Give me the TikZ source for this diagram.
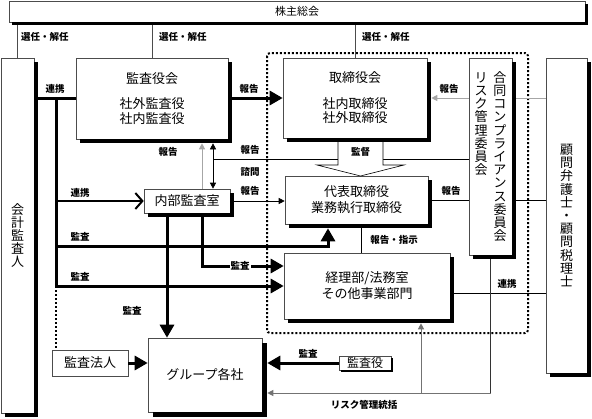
\documentclass[tikz,border=0pt]{standalone}
\usepackage{fontspec}
\setmainfont{Noto Sans CJK JP}
\usepackage{xcolor}
\usepackage{tikz}
\usetikzlibrary{arrows.meta}

\tikzset{
    box/.style={draw=black!70, fill=white, line width=0.6pt, inner sep=0pt, align=center,
        font=\fontsize{13}{16}\selectfont},
    tatebox/.style={box, font=\fontsize{13}{13.2}\selectfont},
    boxshadow/.style={draw=black, line width=#1, line cap=butt, line join=miter},
    boxshadow/.default=4pt,
    lbl/.style={font=\bfseries\fontsize{9.5}{10}\selectfont, inner sep=1pt},
    selline/.style={line width=0.6pt, black!70},
    thinline/.style={line width=0.6pt},
    grayline/.style={line width=1pt, black!35},
    darkgray/.style={line width=1pt, black!55},
    thickline/.style={line width=3pt},
    bigtip/.style={-{Triangle[length=13pt,width=14pt]}},
    smalltip/.style={-{Triangle[length=6pt,width=6pt]}},
    dotframe/.style={dotted, line width=2pt, rounded corners=3pt}
}

\begin{document}
\begin{tikzpicture}[x=1pt, y=-1pt]
    \useasboundingbox (0,0) rectangle (592,418);

    % frame round the executive side
    \draw[dotframe] (267,53) rectangle (528,333);

    % boxes
    \node[box, minimum width=576pt, minimum height=21pt, font=\fontsize{11}{12}\selectfont] (kabunushi) at (297,11.5) {株主総会};
    \node[tatebox, minimum width=33pt, minimum height=355pt] (kaikei) at (17.5,235.5) {会\\計\\監\\査\\人};
    \node[box, minimum width=152pt, minimum height=81pt, font=\fontsize{13}{14.5}\selectfont] (kansayakukai) at (152,98.5) {監査役会\\[11pt]社外監査役\\社内監査役};
    \node[box, minimum width=144pt, minimum height=80pt, font=\fontsize{13}{14.5}\selectfont] (torishimari) at (355,98) {取締役会\\[11pt]社内取締役\\社外取締役};
    \node[tatebox, minimum width=43pt, minimum height=197pt] (goudou) at (490.5,156.5) {%
        リ\hspace{6pt}合\\ス\hspace{6pt}同\\ク\hspace{6pt}コ\\管\hspace{6pt}ン\\理\hspace{6pt}プ\\
        委\hspace{6pt}ラ\\員\hspace{6pt}イ\\会\hspace{6pt}ア\\\phantom{会}\hspace{6pt}ン\\\phantom{会}\hspace{6pt}ス\\
        \phantom{会}\hspace{6pt}委\\\phantom{会}\hspace{6pt}員\\\phantom{会}\hspace{6pt}会};
    \node[tatebox, minimum width=41pt, minimum height=315pt] (komon) at (566.5,215.5) {顧\\問\\弁\\護\\士\\・\\顧\\問\\税\\理\\士};
    \node[box, minimum width=86pt, minimum height=24pt] (naibu) at (187,201) {内部監査室};
    \node[box, minimum width=143pt, minimum height=48pt] (daihyo) at (356.5,200) {代表取締役\\業務執行取締役};
    \node[box, minimum width=166pt, minimum height=66pt] (keiri) at (367,286) {経理部/法務室\\その他事業部門};
    \node[box, minimum width=114pt, minimum height=74pt] (group) at (205,375) {グループ各社};
    \node[box, minimum width=76pt, minimum height=26pt] (kansahoujin) at (90,363) {監査法人};
    \node[box, minimum width=52pt, minimum height=14pt, font=\fontsize{12}{13}\selectfont] (kansayaku) at (365,363) {監査役};

    % shadows on the right and bottom edges
    \draw[boxshadow=3pt] (586.5,4) -- (586.5,23.5) -- (12,23.5);
    \draw[boxshadow] (36,62) -- (36,415) -- (5,415);
    \draw[boxshadow] (230,62) -- (230,141) -- (80,141);
    \draw[boxshadow] (429,62) -- (429,140) -- (287,140);
    \draw[boxshadow] (514,62) -- (514,257) -- (473,257);
    \draw[boxshadow] (589,62) -- (589,375) -- (550,375);
    \draw[boxshadow] (232,193) -- (232,215) -- (148,215);
    \draw[boxshadow] (430,180) -- (430,226) -- (289,226);
    \draw[boxshadow] (452,257) -- (452,321) -- (288,321);
    \draw[boxshadow=5pt] (264.5,343) -- (264.5,414.5) -- (153,414.5);
    \draw[boxshadow=2pt] (392,358) -- (392,371) -- (341,371);

    % 選任・解任
    \draw[selline] ([yshift=-3pt]kabunushi.south -| kaikei.north) -- (kaikei.north);
    \draw[selline] ([yshift=-3pt]kabunushi.south -| kansayakukai.north) -- (kansayakukai.north);
    \draw[selline] ([yshift=-3pt]kabunushi.south -| torishimari.north) -- (torishimari.north);
    \node[lbl, anchor=west] (sen1) at (20,37) {選任・解任};
    \node[lbl, anchor=west] (sen2) at (158,37) {選任・解任};
    \node[lbl, anchor=west] (sen3) at (361,37) {選任・解任};

    % 会計監査人 side
    \coordinate (bustop) at (56,98.5);
    \coordinate (busbot) at (56,286);
    \draw[thickline] ([xshift=4pt]kaikei.east |- kansayakukai.west) -- (kansayakukai.west);
    \node[lbl] at (55,89) {連携};
    \draw[thickline] (bustop) -- (busbot);
    \draw[dotted, line width=2pt] (busbot) -- (busbot |- kansahoujin.north);
    \draw[line width=2pt, -{Straight Barb[length=7pt,width=16pt]}] (bustop |- naibu.west) -- (naibu.west);
    \node[lbl] at (80,193) {連携};
    \coordinate (kansa1) at (328,246);
    \draw[thickline, bigtip] (bustop |- kansa1) -- (kansa1) -- ([yshift=-4pt]kansa1 |- daihyo.south);
    \node[lbl] at (80,237) {監査};
    \draw[thickline, bigtip] (busbot) -- (busbot -| keiri.west);
    \node[lbl] at (80,277) {監査};

    % 監査役会 -> 取締役会
    \draw[thickline, bigtip] ([xshift=4pt]kansayakukai.east |- torishimari.west) -- (torishimari.west);
    \node[lbl] at (249,89) {報告};

    % 合同委員会 and 顧問
    \draw[grayline, smalltip] (goudou.west |- torishimari.east) -- ([xshift=4pt]torishimari.east);
    \draw[grayline] (komon.west |- torishimari.east) -- ([xshift=4pt]goudou.east |- torishimari.east);
    \node[lbl] at (449,89) {報告};
    \draw[thinline] (goudou.west |- daihyo.east) -- ([xshift=4pt]daihyo.east);
    \draw[thinline] (komon.west |- daihyo.east) -- ([xshift=4pt]goudou.east |- daihyo.east);
    \node[lbl] at (451,191) {報告};

    % 諮問 / 報告
    \coordinate (shimon) at (213,159);
    \coordinate (houkoku) at (202,159);
    \draw[thinline] (goudou.west |- shimon) -- (shimon);
    \draw[thinline, {Triangle[length=6pt,width=6pt]}-{Triangle[length=6pt,width=6pt]}]
        ([yshift=-4pt]kansayakukai.south -| shimon) -- (naibu.north -| shimon);
    \draw[grayline, smalltip] (naibu.north -| houkoku) -- ([yshift=-4pt]kansayakukai.south -| houkoku);
    \node[lbl] at (168,152) {報告};
    \node[lbl] at (250,150) {報告};
    \node[lbl] at (250,172) {諮問};

    % 監督
    \draw[thinline, fill=white] (338,142) -- (338,165) -- (317,165) -- (360.5,176) -- (404,165) -- (383,165) -- (383,142);
    \node[lbl] at (360.5,152) {監督};

    % 内部監査室
    \draw[thinline, smalltip] ([xshift=4pt]naibu.east) -- (naibu.east -| daihyo.west);
    \node[lbl] at (250,191) {報告};
    \draw[thickline, bigtip] ([xshift=-20pt,yshift=-4pt]naibu.south) -- ([xshift=-20pt]naibu.south |- group.north);
    \node[lbl] at (132,311) {監査};
    \coordinate (kansa2) at (202,266);
    \draw[thickline, bigtip] ([yshift=-4pt]naibu.south -| kansa2) -- (kansa2) -- (kansa2 -| keiri.west);
    \node[lbl, fill=white] at (240,266) {監査};

    % 代表取締役 -> 経理部
    \draw[thinline] ([xshift=4.5pt,yshift=-4pt]daihyo.south) -- ([xshift=4.5pt]daihyo.south |- keiri.north);
    \node[lbl] at (394,240) {報告・指示};

    % 連携 with 顧問
    \draw[thinline] ([xshift=4pt,yshift=-7pt]keiri.east) -- ([yshift=-7pt]keiri.east -| komon.west);
    \node[lbl] at (507,284) {連携};

    % リスク管理統括
    \coordinate (riskR) at (490.5,393);
    \coordinate (riskM) at (421,393);
    \draw[thinline, black!80] ([yshift=-4pt]goudou.south) -- (riskR);
    \draw[darkgray, smalltip] (riskR) -- ([xshift=5pt]group.east |- riskR);
    \draw[darkgray, smalltip] (riskM) -- ([yshift=-4pt]keiri.south -| riskM);
    \node[lbl] at (364,405) {リスク管理統括};

    % グループ各社
    \draw[thickline, bigtip] (kansayaku.west) -- ([xshift=5pt]group.east |- kansayaku.west);
    \node[lbl] at (308,354) {監査};
    \draw[thickline, bigtip] (kansahoujin.east) -- (kansahoujin.east -| group.west);
\end{tikzpicture}
\end{document}
